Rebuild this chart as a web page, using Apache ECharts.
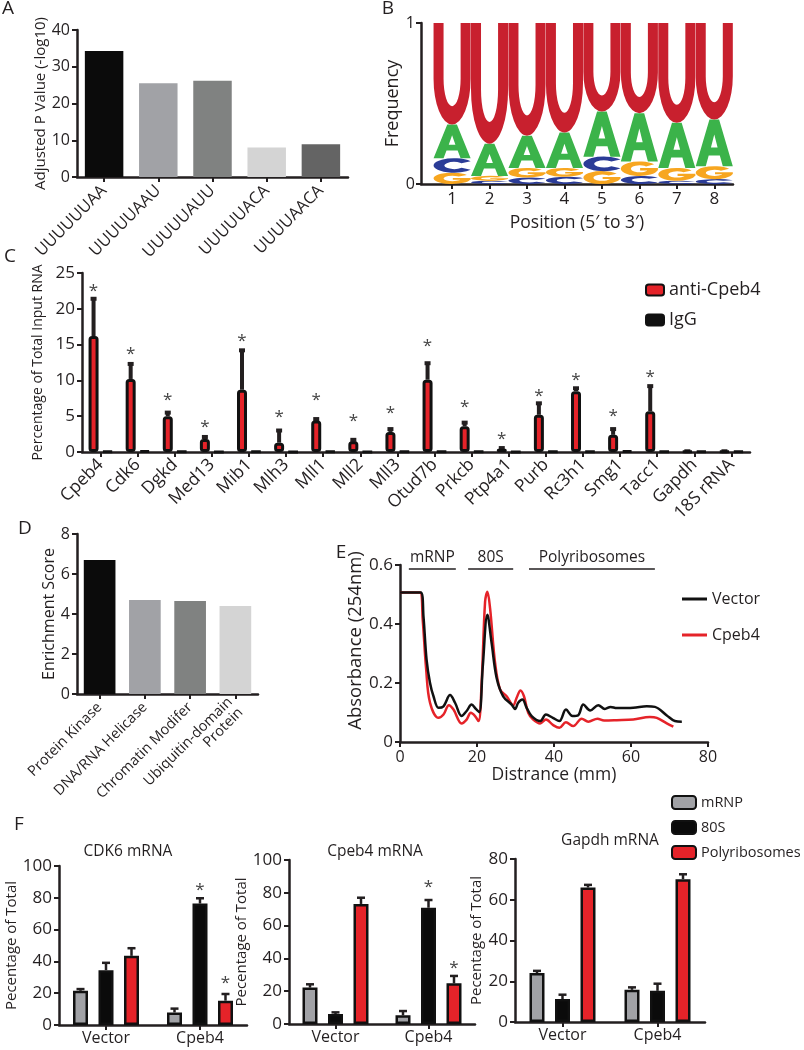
<!DOCTYPE html>
<html>
<head>
<meta charset="utf-8">
<title>Cpeb4 targets</title>
<script src="https://cdn.jsdelivr.net/npm/echarts@6/dist/echarts.min.js"></script>
<style>
html, body { margin: 0; padding: 0; background: #fff; }
#chart { width: 804px; height: 1050px; }
</style>
</head>
<body>
<div id="chart"></div>
<script>
// ---- A: motif enrichment ----
var motifs = ['UUUUUUAA', 'UUUUUAAU', 'UUUUUAUU', 'UUUUUACA', 'UUUUAACA'];
var motifP = [34.3, 25.5, 26.2, 8.0, 8.9];

// ---- B: sequence logo (frequency per position) ----
var logoPos = [1, 2, 3, 4, 5, 6, 7, 8];
var freqU = [0.63, 0.75, 0.70, 0.68, 0.55, 0.56, 0.62, 0.60];
var freqA = [0.21, 0.20, 0.20, 0.22, 0.28, 0.30, 0.28, 0.29];
var freqC = [0.09, 0.02, 0.04, 0.045, 0.09, 0.05, 0.02, 0.03];
var freqG = [0.07, 0.03, 0.06, 0.055, 0.08, 0.09, 0.08, 0.08];

// ---- C: RIP ----
var genes = ['Cpeb4', 'Cdk6', 'Dgkd', 'Med13', 'Mib1', 'Mlh3', 'Mll1', 'Mll2', 'Mll3', 'Otud7b',
  'Prkcb', 'Ptp4a1', 'Purb', 'Rc3h1', 'Smg1', 'Tacc1', 'Gapdh', '18S rRNA'];
var antiCpeb4 = [16.2, 10.2, 5.0, 1.8, 8.7, 1.3, 4.4, 1.5, 2.8, 10.1, 3.6, 0.45, 5.2, 8.5, 2.4, 5.7, 0.1, 0.1];
var antiCpeb4Err = [21.4, 12.3, 5.5, 2.1, 14.2, 3.0, 4.6, 1.7, 3.2, 12.4, 4.1, 0.55, 6.8, 8.9, 3.2, 9.2, 0.1, 0.1];
var igg = [0.1, 0.15, 0.05, 0.03, 0.05, 0.03, 0.08, 0.03, 0.05, 0.05, 0.05, 0.03, 0.05, 0.05, 0.15, 0.05, 0.1, 0.1];
var starC = [23.0, 14.2, 7.8, 4.0, 16.1, 5.4, 7.8, 4.9, 6.0, 15.4, 6.8, 2.4, 8.4, 10.6, 5.5, 11.0, null, null];

// ---- D: enrichment ----
var classes = ['Protein Kinase', 'DNA/RNA Helicase', 'Chromatin Modifer', 'Ubiquitin-domain\nProtein'];
var enrich = [6.7, 4.7, 4.65, 4.4];

// ---- E: polysome profile ----
var distVector = [0, 5.4, 6.1, 6.9, 7.8, 8.7, 10.0, 11.3, 13.0, 14.3, 16.0, 17.3, 18.6, 19.7, 20.6, 21.5, 22.7, 23.8, 25.1, 26.8, 29.0, 29.9, 30.7, 31.8, 32.9, 34.2, 36.4, 37.9, 39.7, 41.4, 43.1, 44.8, 46.3, 47.6, 49.4, 51.5, 53.2, 54.7, 56.3, 60.6, 64.1, 66.2, 69.3, 71.4, 73.2];
var absVector = [0.507, 0.507, 0.425, 0.279, 0.200, 0.155, 0.116, 0.121, 0.159, 0.133, 0.088, 0.105, 0.127, 0.112, 0.101, 0.256, 0.431, 0.335, 0.217, 0.155, 0.127, 0.112, 0.133, 0.144, 0.116, 0.088, 0.071, 0.093, 0.082, 0.071, 0.110, 0.088, 0.091, 0.127, 0.107, 0.125, 0.112, 0.119, 0.115, 0.116, 0.121, 0.119, 0.090, 0.071, 0.069];
var distCpeb4 = [0, 5.2, 5.9, 6.8, 7.8, 10.0, 11.3, 12.7, 13.9, 16.0, 17.3, 18.4, 19.5, 20.4, 21.2, 22.1, 22.7, 23.4, 24.7, 26.0, 27.7, 29.4, 30.3, 31.3, 32.2, 33.3, 34.6, 36.4, 37.9, 39.8, 41.4, 43.1, 45.0, 47.2, 48.9, 51.3, 53.0, 56.3, 60.6, 64.9, 66.7, 69.3, 71.0];
var absCpeb4 = [0.507, 0.507, 0.414, 0.245, 0.133, 0.082, 0.093, 0.125, 0.110, 0.063, 0.076, 0.099, 0.088, 0.071, 0.200, 0.476, 0.509, 0.453, 0.268, 0.178, 0.155, 0.124, 0.150, 0.175, 0.155, 0.099, 0.076, 0.063, 0.076, 0.057, 0.048, 0.067, 0.054, 0.079, 0.069, 0.079, 0.073, 0.074, 0.076, 0.085, 0.082, 0.063, 0.052];
var fractionNames = ['mRNP', '80S', 'Polyribosomes'];
var fractionStart = [2.3, 17.7, 33.5];
var fractionEnd = [14.5, 29.4, 66.2];
var fractionLevel = 0.587;

// ---- F: distribution along gradient ----
var fGroups = ['Vector', 'Cpeb4'];
var cdk6Mrnp = [21.5, 7.9], cdk6MrnpErr = [22.6, 10.3];
var cdk680S = [34.5, 76.4], cdk680SErr = [39.1, 79.7];
var cdk6Poly = [43.5, 15.3], cdk6PolyErr = [48.3, 19.5];
var cdk6Star80S = [null, 87.4], cdk6StarPoly = [null, 28.9];
var cpeb4Mrnp = [22.2, 5.3], cpeb4MrnpErr = [24.2, 7.9];
var cpeb480S = [6.1, 70.9], cpeb480SErr = [7.1, 75.6];
var cpeb4Poly = [73.2, 24.8], cpeb4PolyErr = [77.0, 29.3];
var cpeb4Star80S = [null, 85.8], cpeb4StarPoly = [null, 36.4];
var gapdhMrnp = [24.0, 15.8], gapdhMrnpErr = [25.1, 17.0];
var gapdh80S = [11.3, 15.3], gapdh80SErr = [13.4, 18.8];
var gapdhPoly = [66.0, 70.1], gapdhPolyErr = [67.3, 72.5];

// ---- styling ----
var INK = '#231f20';
var FONT = 'Open Sans';
var RED = '#e52329';
var greysA = ['#0b0b0b', '#a1a2a6', '#808281', '#d4d4d4', '#646464'];
var greysD = ['#0b0b0b', '#a1a2a6', '#808281', '#d4d4d4'];
var fracColors = ['#a1a2a6', '#0b0b0b', RED];
var LETTER_COLORS = ['#c8202e', '#3bb34a', '#2b3c97', '#f7a620']; // U A C G
var LETTER_PATHS = [
  'M0 0 H27 V55 A23 27 0 0 0 73 55 V0 H100 V55 A50 45 0 0 1 0 55 Z',
  'M0 100 L37 0 H63 L100 100 H73 L65 77 H35 L27 100 Z M41 60 H59 L50 32 Z',
  'M90 20 A50 50 0 1 0 90 80 L68 66 A24 24 0 1 1 68 34 Z',
  'M90 20 A50 50 0 1 0 99 60 L74 58 A24 24 0 1 1 68 34 Z M52 46 V62 H100 V46 Z'
];
var CBAR_W = 10, CBAR_GAP = 0.4;
var FBAR_W = 15, FBAR_GAP = 0.7;

function merge(a, b) {
  for (var k in b) {
    if (b[k] && typeof b[k] === 'object' && !Array.isArray(b[k]) && a[k] && typeof a[k] === 'object') merge(a[k], b[k]);
    else a[k] = b[k];
  }
  return a;
}
function axis(extra) {
  return merge({
    axisLine: { show: true, lineStyle: { color: INK, width: 2.5 } },
    axisTick: { show: true, length: 5, lineStyle: { color: INK, width: 2 } },
    axisLabel: { color: INK, fontFamily: FONT, fontSize: 16, margin: 7 },
    splitLine: { show: false },
    nameLocation: 'middle',
    nameTextStyle: { color: INK, fontFamily: FONT, fontSize: 15 }
  }, extra);
}
function catAxis(grid, data, extra) {
  return axis(merge({ type: 'category', gridIndex: grid, data: data, axisTick: { alignWithLabel: true } }, extra || {}));
}
function valAxis(grid, extra) {
  return axis(merge({ type: 'value', gridIndex: grid, nameRotate: 90 }, extra || {}));
}

// error bar + cap, shifted sideways by k * step pixels
function errRender(step, lw, cap) {
  return function (params, api) {
    var k = api.value(3);
    var p0 = api.coord([api.value(0), api.value(1)]);
    var p1 = api.coord([api.value(0), api.value(2)]);
    var x = p0[0] + k * step;
    return { type: 'group', children: [
      { type: 'line', shape: { x1: x, y1: p0[1], x2: x, y2: p1[1] }, style: { stroke: INK, lineWidth: lw } },
      { type: 'line', shape: { x1: x - cap, y1: p1[1], x2: x + cap, y2: p1[1] }, style: { stroke: INK, lineWidth: lw } }
    ] };
  };
}
function starRender(step) {
  return function (params, api) {
    var p = api.coord([api.value(0), api.value(1)]);
    return { type: 'text', x: p[0] + api.value(2) * step, y: p[1] + 4,
      style: { text: '*', fill: '#444', font: '17px "Open Sans"', textAlign: 'center', textVerticalAlign: 'middle' } };
  };
}
function errData(vals, tops, k) {
  return vals.map(function (v, i) { return [i, v, tops[i], k]; });
}
function starData(ys, k) {
  var out = [];
  ys.forEach(function (y, i) { if (y != null) out.push([i, y, k]); });
  return out;
}

// logo stacks: smallest letter at bottom
var logoData = [];
logoPos.forEach(function (p, i) {
  var f = [freqU[i], freqA[i], freqC[i], freqG[i]];
  var order = [0, 1, 2, 3].sort(function (a, b) { return f[a] - f[b]; });
  var base = 0;
  order.forEach(function (li) {
    logoData.push([p, base, base + f[li], li]);
    base += f[li];
  });
});

var grids = [
  { left: 77, top: 30, width: 271, height: 147 },   // A
  { left: 421, top: 23, width: 312, height: 161 },  // B
  { left: 82, top: 273, width: 668, height: 179 },  // C
  { left: 77, top: 534, width: 181, height: 160 },  // D
  { left: 400, top: 565, width: 308, height: 177 }, // E
  { left: 59, top: 866, width: 188, height: 159 },  // F1
  { left: 289, top: 860, width: 186, height: 164 }, // F2
  { left: 515, top: 859, width: 190, height: 163 }  // F3
];

var xAxes = [
  catAxis(0, motifs, { axisLabel: { rotate: 45, fontSize: 16.5, margin: 11 } }),
  axis({ type: 'value', gridIndex: 1, min: 0.17, max: 8.5, name: 'Position (5\u2032 to 3\u2032)', nameGap: 30,
    nameTextStyle: { fontSize: 17.5 },
    axisTick: { customValues: logoPos }, axisLabel: { customValues: logoPos, fontSize: 17 } }),
  catAxis(2, genes, { axisLabel: { rotate: 45, fontSize: 17.5, margin: 10, interval: 0 } }),
  catAxis(3, classes, { axisLabel: { rotate: 45, fontSize: 14.5, margin: 11, interval: 0 } }),
  axis({ type: 'value', gridIndex: 4, min: 0, max: 80, interval: 20, name: 'Distrance (mm)', nameGap: 22,
    nameTextStyle: { fontSize: 17.5 } }),
  catAxis(5, fGroups, { axisLabel: { margin: 5 } }),
  catAxis(6, fGroups, { axisLabel: { margin: 5 } }),
  catAxis(7, fGroups, { axisLabel: { margin: 5 } })
];
var yAxes = [
  valAxis(0, { min: 0, max: 40, interval: 10, name: 'Adjusted P Value (-log10)', nameGap: 28 }),
  valAxis(1, { min: 0, max: 1, interval: 1, name: 'Frequency', nameGap: 12,
    nameTextStyle: { fontSize: 18 }, axisLabel: { fontSize: 16, margin: 6 } }),
  valAxis(2, { min: 0, max: 25, interval: 5, name: 'Percentage of Total Input RNA', nameGap: 36,
    nameTextStyle: { fontSize: 14 }, axisLabel: { fontSize: 17 } }),
  valAxis(3, { min: 0, max: 8, interval: 2, name: 'Enrichment Score', nameGap: 20, nameTextStyle: { fontSize: 16 } }),
  valAxis(4, { min: 0, max: 0.6, interval: 0.2, name: 'Absorbance (254nm)', nameGap: 30,
    nameTextStyle: { fontSize: 18.5, padding: [0, 0, 0, 26] },
    axisLabel: { fontSize: 17, formatter: function (v) { return v === 0 ? '0' : v.toFixed(1); } } }),
  valAxis(5, { min: 0, max: 100, interval: 20, name: 'Pecentage of Total', nameGap: 26, axisLabel: { fontSize: 17 } }),
  valAxis(6, { min: 0, max: 100, interval: 20, name: 'Pecentage of Total', nameGap: 26, axisLabel: { fontSize: 17 } }),
  valAxis(7, { min: 0, max: 80, interval: 20, name: 'Pecentage of Total', nameGap: 22, axisLabel: { fontSize: 17 } })
];

var series = [];
// A
series.push({ type: 'bar', xAxisIndex: 0, yAxisIndex: 0, barWidth: '71%',
  data: motifP.map(function (v, i) { return { value: v, itemStyle: { color: greysA[i] } }; }) });
// B
series.push({ type: 'custom', xAxisIndex: 1, yAxisIndex: 1, data: logoData, encode: { x: 0, y: [1, 2] },
  renderItem: function (params, api) {
    var li = api.value(3);
    var lo = api.coord([api.value(0), api.value(1)]);
    var hi = api.coord([api.value(0), api.value(2)]);
    var w = api.size([1, 0])[0] * 0.99;
    return { type: 'path',
      shape: { pathData: LETTER_PATHS[li], layout: 'cover',
        x: lo[0] - w / 2, y: hi[1], width: w, height: Math.max(lo[1] - hi[1], 0.5) },
      style: { fill: LETTER_COLORS[li] } };
  } });
// C
series.push({ type: 'bar', name: 'anti-Cpeb4', xAxisIndex: 2, yAxisIndex: 2, data: antiCpeb4,
  barWidth: CBAR_W, barGap: (CBAR_GAP * 100) + '%',
  itemStyle: { color: RED, borderColor: '#111', borderWidth: 3, borderRadius: 2 } });
series.push({ type: 'bar', name: 'IgG', xAxisIndex: 2, yAxisIndex: 2, data: igg,
  barWidth: CBAR_W, itemStyle: { color: '#111', borderColor: '#111', borderWidth: 3, borderRadius: 2 } });
series.push({ type: 'custom', xAxisIndex: 2, yAxisIndex: 2, encode: { x: 0, y: [1, 2] },
  data: errData(antiCpeb4, antiCpeb4Err, -0.5), renderItem: errRender(CBAR_W * (1 + CBAR_GAP), 4, 3) });
series.push({ type: 'custom', xAxisIndex: 2, yAxisIndex: 2, encode: { x: 0, y: 1 },
  data: starData(starC, -0.5), renderItem: starRender(CBAR_W * (1 + CBAR_GAP)) });
// D
series.push({ type: 'bar', xAxisIndex: 3, yAxisIndex: 3, barWidth: '70%',
  data: enrich.map(function (v, i) { return { value: v, itemStyle: { color: greysD[i] } }; }) });
// E
series.push({ type: 'line', name: 'Vector', xAxisIndex: 4, yAxisIndex: 4, smooth: 0.35, symbol: 'none',
  lineStyle: { color: '#111', width: 2.5 }, itemStyle: { color: '#111' }, z: 3,
  data: distVector.map(function (d, i) { return [d, absVector[i]]; }),
  markLine: { silent: true, symbol: 'none', animation: false,
    lineStyle: { color: INK, width: 1.5, type: 'solid' },
    label: { position: 'insideMiddleTop', distance: 3, color: INK, fontFamily: FONT, fontSize: 15.5,
      formatter: function (p) { return p.name; } },
    data: fractionNames.map(function (n, i) {
      return [{ name: n, coord: [fractionStart[i], fractionLevel] }, { coord: [fractionEnd[i], fractionLevel] }];
    }) } });
series.push({ type: 'line', name: 'Cpeb4', xAxisIndex: 4, yAxisIndex: 4, smooth: 0.35, symbol: 'none',
  lineStyle: { color: RED, width: 2.5 }, itemStyle: { color: RED }, z: 2,
  data: distCpeb4.map(function (d, i) { return [d, absCpeb4[i]]; }) });
// F
var fSets = [
  [cdk6Mrnp, cdk680S, cdk6Poly, cdk6MrnpErr, cdk680SErr, cdk6PolyErr, cdk6Star80S, cdk6StarPoly],
  [cpeb4Mrnp, cpeb480S, cpeb4Poly, cpeb4MrnpErr, cpeb480SErr, cpeb4PolyErr, cpeb4Star80S, cpeb4StarPoly],
  [gapdhMrnp, gapdh80S, gapdhPoly, gapdhMrnpErr, gapdh80SErr, gapdhPolyErr, [null, null], [null, null]]
];
var FSTEP = FBAR_W * (1 + FBAR_GAP);
fSets.forEach(function (s, g) {
  var ax = 5 + g;
  var errs = [];
  for (var k = 0; k < 3; k++) {
    series.push({ type: 'bar', name: fractionNames[k], xAxisIndex: ax, yAxisIndex: ax, data: s[k],
      barWidth: FBAR_W, barGap: (FBAR_GAP * 100) + '%',
      itemStyle: { color: fracColors[k], borderColor: '#111', borderWidth: 2.5 } });
    errs = errs.concat(errData(s[k], s[3 + k], k - 1));
  }
  series.push({ type: 'custom', xAxisIndex: ax, yAxisIndex: ax, encode: { x: 0, y: [1, 2] }, z: 1,
    data: errs, renderItem: errRender(FSTEP, 2.5, 4) });
  series.push({ type: 'custom', xAxisIndex: ax, yAxisIndex: ax, encode: { x: 0, y: 1 },
    data: starData(s[6], 0).concat(starData(s[7], 1)), renderItem: starRender(FSTEP) });
});

function panelText(t, x, y, size) {
  return { type: 'text', x: x, y: y,
    style: { text: t, fill: INK, font: size + 'px "Open Sans"', textAlign: 'center', textVerticalAlign: 'middle' } };
}

var option = {
  animation: false,
  backgroundColor: '#fff',
  textStyle: { fontFamily: FONT },
  grid: grids,
  xAxis: xAxes,
  yAxis: yAxes,
  legend: [
    { data: ['anti-Cpeb4', 'IgG'], orient: 'vertical', left: 640, top: 276, icon: 'roundRect',
      itemWidth: 18, itemHeight: 11, itemGap: 12, textStyle: { color: INK, fontFamily: FONT, fontSize: 18 } },
    { data: ['Vector', 'Cpeb4'], orient: 'vertical', left: 677, top: 586, icon: 'rect',
      itemWidth: 25, itemHeight: 3, itemGap: 20, textStyle: { color: INK, fontFamily: FONT, fontSize: 16 } },
    { data: fractionNames, orient: 'vertical', left: 666, top: 790, icon: 'roundRect',
      itemWidth: 24, itemHeight: 13, itemGap: 10, textStyle: { color: INK, fontFamily: FONT, fontSize: 14.5 } }
  ],
  graphic: [
    panelText('A', 8, 9, 19), panelText('B', 388, 9, 19), panelText('C', 10, 257, 19),
    panelText('D', 25, 529, 19), panelText('E', 341, 553, 19), panelText('F', 19, 825, 19),
    panelText('CDK6 mRNA', 128, 852, 15.5), panelText('Cpeb4 mRNA', 375, 852, 15.5), panelText('Gapdh mRNA', 610, 841, 15.5)
  ],
  series: series
};

echarts.init(document.getElementById('chart')).setOption(option);
</script>
</body>
</html>
